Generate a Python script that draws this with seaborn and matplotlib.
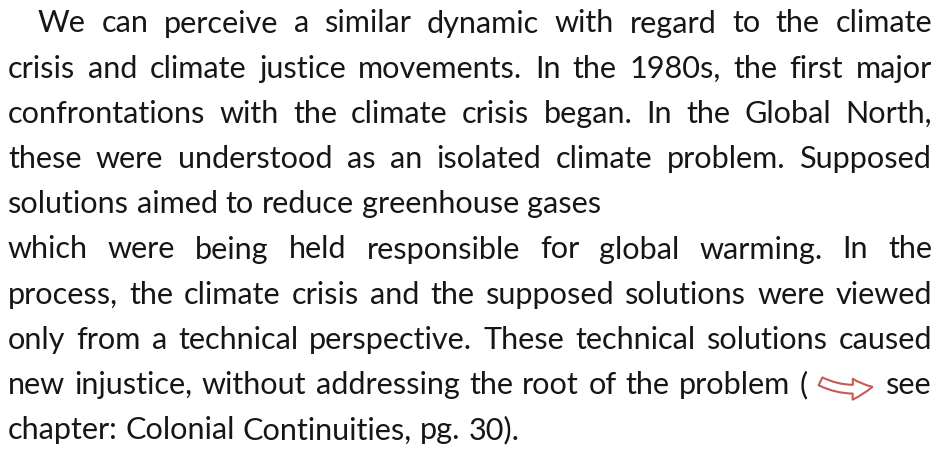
import matplotlib
matplotlib.use("Agg")
import matplotlib.pyplot as plt
import seaborn as sns
from matplotlib.patches import FancyArrowPatch

# Text of the paragraph, one entry per rendered line
lines = [
    "We can perceive a similar dynamic with regard to the climate",
    "crisis and climate justice movements. In the 1980s, the first major",
    "confrontations with the climate crisis began. In the Global North,",
    "these were understood as an isolated climate problem. Supposed",
    "solutions aimed to reduce greenhouse gases",
    "which were being held responsible for global warming. In the",
    "process, the climate crisis and the supposed solutions were viewed",
    "only from a technical perspective. These technical solutions caused",
    "new injustice, without addressing the root of the problem ( ARROW see",
    "chapter: Colonial Continuities, pg. 30).",
]
justified = [True, True, True, True, False, True, True, True, True, False]

sns.set_theme(style="white")
plt.rcParams['font.family'] = ['Lato', 'DejaVu Sans']

W, H = 948, 449
fig = plt.figure(figsize=(W / 100, H / 100), dpi=100)
ax = fig.add_axes([0, 0, 1, 1])
ax.set_xlim(0, W)
ax.set_ylim(H, 0)
ax.axis('off')
renderer = fig.canvas.get_renderer()

text_color = '#161616'
arrow_color = '#c65a56'


def width(s, size):
    t = ax.text(0, 0, s, fontsize=size)
    w = t.get_window_extent(renderer).width
    t.remove()
    return w


# font size fitted so the two unjustified lines keep their length on the page
size = 18 * (592 + 510) / (width(lines[4], 18) + width(lines[9], 18))
space = width("x x", size) - width("xx", size)
arrow_w = 60

left, right = 8, 932
y0, pitch = 32.5, 45.2

for i, (line, just) in enumerate(zip(lines, justified)):
    words = line.split(" ")
    x = 38 if i == 0 else left
    widths = [arrow_w if w == "ARROW" else width(w, size) for w in words]
    if just:
        gap = (right - x - sum(widths)) / (len(words) - 1)
    else:
        gap = space
    y = y0 + pitch * i
    for w, wd in zip(words, widths):
        if w == "ARROW":
            arr = FancyArrowPatch(
                (x + 1, y - 14), (x + wd - 2, y - 8),
                arrowstyle='simple,head_length=0.95,head_width=1.0,tail_width=0.42',
                mutation_scale=15, connectionstyle='arc3,rad=0.2',
                fc='white', ec=arrow_color, lw=1.5)
            ax.add_patch(arr)
        else:
            ax.text(x, y, w, fontsize=size, color=text_color,
                    ha='left', va='baseline')
        x += wd + gap

fig.savefig('out.png', dpi=100, facecolor='white')
